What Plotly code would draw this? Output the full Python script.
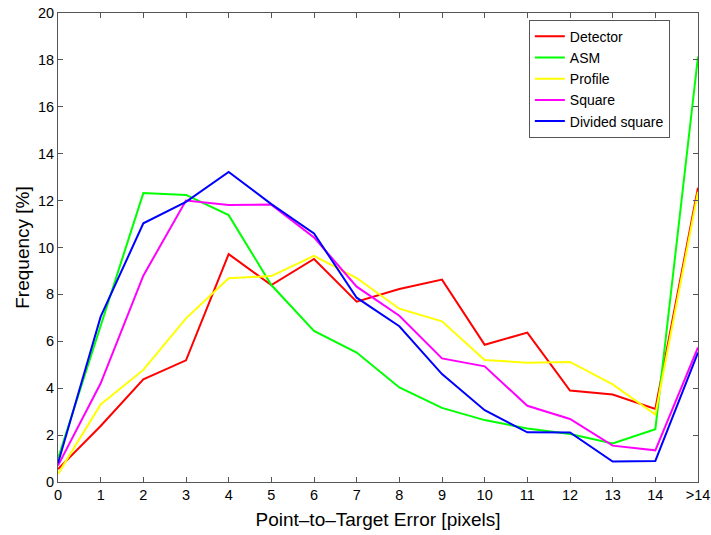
import plotly.graph_objects as go

x_labels = ["0", "1", "2", "3", "4", "5", "6", "7", "8", "9", "10", "11", "12", "13", "14", ">14"]
x_pos = list(range(16))

detector = [0.55, 2.39, 4.38, 5.19, 9.72, 8.4, 9.51, 7.69, 8.23, 8.63, 5.85, 6.37, 3.9, 3.73, 3.12, 12.55]
asm = [1.0, 6.7, 12.32, 12.24, 11.38, 8.4, 6.44, 5.52, 4.03, 3.16, 2.64, 2.28, 2.05, 1.64, 2.25, 18.14]
profile = [0.34, 3.31, 4.78, 6.98, 8.69, 8.78, 9.64, 8.7, 7.39, 6.85, 5.2, 5.09, 5.12, 4.16, 2.88, 12.38]
square = [0.7, 4.21, 8.8, 12.0, 11.81, 11.83, 10.43, 8.33, 7.09, 5.27, 4.93, 3.25, 2.69, 1.55, 1.35, 5.74]
divided = [0.8, 7.05, 11.03, 11.95, 13.22, 11.85, 10.6, 7.86, 6.64, 4.6, 3.06, 2.12, 2.11, 0.87, 0.9, 5.52]

series = [
    ("Detector", detector, "#ff0000"),
    ("ASM", asm, "#00ff00"),
    ("Profile", profile, "#ffff00"),
    ("Square", square, "#ff00ff"),
    ("Divided square", divided, "#0000ff"),
]

fig = go.Figure()
for name, vals, col in series:
    fig.add_trace(go.Scatter(x=x_pos, y=vals, mode="lines", name=name,
                             line=dict(color=col, width=2)))

font = "Liberation Sans, Arial, Helvetica, sans-serif"
axis_common = dict(showline=True, linecolor="#555555", linewidth=1, mirror="ticks",
                   ticks="inside", ticklen=5, tickcolor="#555555", showgrid=False,
                   zeroline=False, automargin=False,
                   tickfont=dict(family=font, size=14.5, color="black"))

fig.update_layout(
    width=711, height=535,
    margin=dict(l=57.5, r=13, t=13, b=53, autoexpand=False),
    paper_bgcolor="white", plot_bgcolor="white",
    font=dict(family=font, color="black"),
    showlegend=True,
    legend=dict(x=0.7357, y=0.9857, xanchor="left", yanchor="top",
                bordercolor="#555555", borderwidth=1, bgcolor="white",
                font=dict(family=font, size=14, color="black"),
                tracegroupgap=0, itemwidth=30),
    xaxis=dict(range=[0, 15], tickvals=x_pos, ticktext=x_labels,
               title=dict(text="Point\u2013to\u2013Target Error [pixels]", font=dict(family=font, size=19), standoff=10),
               **axis_common),
    yaxis=dict(range=[0, 20], dtick=2,
               title=dict(text="Frequency [%]", font=dict(family=font, size=19), standoff=3),
               **axis_common),
)

fig.write_html("out.html")
